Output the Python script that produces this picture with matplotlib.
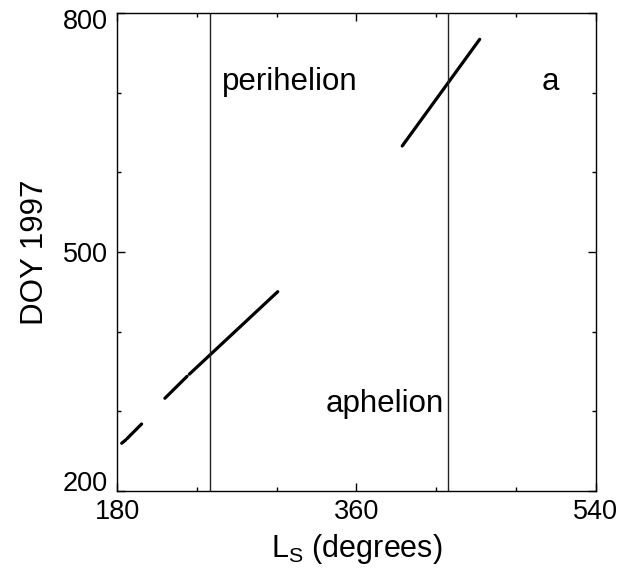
import matplotlib
matplotlib.use("Agg")
import matplotlib.pyplot as plt
import matplotlib.transforms as mtransforms
from matplotlib.ticker import FixedLocator

# Ls (deg, continued past 360) vs day of year 1997, one list per logged stretch
seg_ls = [
    [183.3, 186.4],
    [187.4, 198.3],
    [215.8, 232.5],
    [234.2, 300.8],
    [394.5, 452.8],
]
seg_doy = [
    [259.9, 264.2],
    [265.9, 284.1],
    [316.4, 343.9],
    [346.6, 450.2],
    [633.1, 767.0],
]

perihelion_ls = 250.0
aphelion_ls = 429.0

x_major = [180, 360, 540]
x_minor = [240, 300, 420, 480]
y_major = [200, 500, 800]
y_minor = [300, 400, 600, 700]

plt.rcParams["font.family"] = ["Liberation Sans", "DejaVu Sans"]
plt.rcParams["mathtext.fontset"] = "custom"
plt.rcParams["mathtext.rm"] = "Liberation Sans"

fig = plt.figure(figsize=(6.25, 5.79), dpi=100)
ax = fig.add_axes([0.1877, 0.152, 0.7651, 0.8255])

for xs, ys in zip(seg_ls, seg_doy):
    ax.plot(xs, ys, color="black", lw=2.3, solid_capstyle="round")

ax.axvline(perihelion_ls, color="#222222", lw=1.0)
ax.axvline(aphelion_ls, color="#222222", lw=1.0)

ax.text(258.5, 713, "perihelion", fontsize=22.5, va="center", ha="left")
ax.text(506, 713, "a", fontsize=22.5, va="center", ha="center")
ax.text(425.5, 309, "aphelion", fontsize=22.5, va="center", ha="right")

ax.set_xlim(180, 540)
ax.set_ylim(200, 800)
ax.xaxis.set_major_locator(FixedLocator(x_major))
ax.xaxis.set_minor_locator(FixedLocator(x_minor))
ax.yaxis.set_major_locator(FixedLocator(y_major))
ax.yaxis.set_minor_locator(FixedLocator(y_minor))
ax.tick_params(which="both", direction="in", top=True, right=True,
               width=1.0, labelsize=19.5)
ax.tick_params(which="major", length=6, pad=7)
ax.tick_params(axis="x", which="major", pad=6)
ax.tick_params(which="minor", length=3)
for sp in ax.spines.values():
    sp.set_linewidth(1.0)

# keep the end labels of the y axis inside the frame height
ylabels = ax.get_yticklabels()
ylabels[0].set_transform(ylabels[0].get_transform() +
                         mtransforms.ScaledTranslation(0, 7 / 72, fig.dpi_scale_trans))
ylabels[-1].set_transform(ylabels[-1].get_transform() +
                          mtransforms.ScaledTranslation(0, -4 / 72, fig.dpi_scale_trans))

ax.set_xlabel(r"L$_\mathrm{S}$ (degrees)", fontsize=22, labelpad=5)
ax.set_ylabel("DOY 1997", fontsize=22.5, labelpad=9)

fig.savefig("out.png", dpi=100)
